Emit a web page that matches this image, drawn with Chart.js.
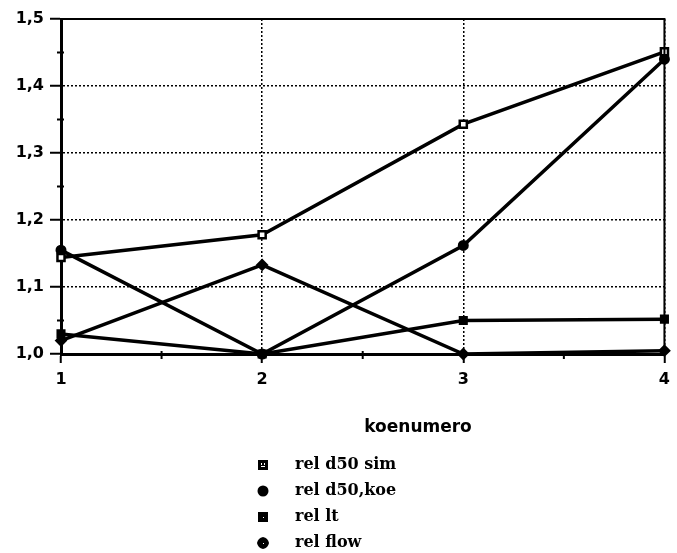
<!DOCTYPE html>
<html>
<head>
<meta charset="utf-8">
<script src="https://cdn.jsdelivr.net/npm/chart.js@4/dist/chart.umd.min.js"></script>
<style>
  html, body { margin: 0; padding: 0; background: #fff; }
  canvas { display: block; }
</style>
</head>
<body>
<canvas id="c" width="677" height="553"></canvas>
<script>
// koenumero (test number) on the x axis
const koenumero = [1, 2, 3, 4];
// relative values per test
const relD50Sim = [1.144, 1.178, 1.343, 1.451];
const relD50Koe = [1.155, 1.000, 1.162, 1.440];
const relLt     = [1.030, 1.000, 1.050, 1.052];
const relFlow   = [1.020, 1.133, 1.000, 1.005];
const seriesNames = ['rel d50 sim', 'rel d50,koe', 'rel lt', 'rel flow'];
const yTicks = [1.0, 1.1, 1.2, 1.3, 1.4, 1.5];
const xTitle = 'koenumero';

const pts = arr => arr.map((v, i) => ({ x: koenumero[i], y: v }));

const base = {
  borderColor: '#000',
  borderWidth: 3.5,
  tension: 0,
  clip: false,
  pointRadius: 5,
  pointBorderWidth: 2,
  pointBorderColor: '#000',
  pointBackgroundColor: '#000'
};

const datasets = [
  Object.assign({}, base, { label: seriesNames[0], data: pts(relD50Sim), pointStyle: 'rect', pointBackgroundColor: '#fff', pointBorderWidth: 2.5 }),
  Object.assign({}, base, { label: seriesNames[1], data: pts(relD50Koe), pointStyle: 'circle', pointRadius: 4.5 }),
  Object.assign({}, base, { label: seriesNames[2], data: pts(relLt), pointStyle: 'rect' }),
  Object.assign({}, base, { label: seriesNames[3], data: pts(relFlow), pointStyle: 'rectRot' })
];

// frame, minor ticks, axis title and legend
const decorations = {
  id: 'decorations',
  beforeDraw(chart) {
    const ctx = chart.ctx;
    ctx.save();
    ctx.fillStyle = '#fff';
    ctx.fillRect(0, 0, chart.width, chart.height);
    ctx.restore();
  },
  afterDatasetsDraw(chart) {
    const { ctx, chartArea: a, scales } = chart;
    ctx.save();
    ctx.strokeStyle = '#000';
    // top and right frame
    ctx.lineWidth = 2;
    ctx.beginPath();
    ctx.moveTo(a.left, a.top);
    ctx.lineTo(a.right, a.top);
    ctx.lineTo(a.right, a.bottom);
    ctx.stroke();
    // minor ticks
    ctx.lineWidth = 2;
    for (let k = 0; k < yTicks.length - 1; k++) {
      const y = scales.y.getPixelForValue((yTicks[k] + yTicks[k + 1]) / 2);
      ctx.beginPath();
      ctx.moveTo(a.left - 4, y);
      ctx.lineTo(a.left + 3, y);
      ctx.stroke();
    }
    for (let k = 0; k < koenumero.length - 1; k++) {
      const x = scales.x.getPixelForValue((koenumero[k] + koenumero[k + 1]) / 2);
      ctx.beginPath();
      ctx.moveTo(x, a.bottom - 3);
      ctx.lineTo(x, a.bottom + 5);
      ctx.stroke();
    }
    ctx.restore();
  },
  afterDraw(chart) {
    const ctx = chart.ctx;
    ctx.save();
    ctx.fillStyle = '#000';
    ctx.textBaseline = 'middle';
    ctx.textAlign = 'center';
    ctx.font = 'bold 17px "DejaVu Sans"';
    ctx.fillText(xTitle, 418, 428);

    // legend
    const mx = 263, tx = 295, y0 = 465, dy = 26;
    ctx.textAlign = 'left';
    ctx.font = 'bold 16px "DejaVu Serif"';
    seriesNames.forEach((name, i) => {
      const y = y0 + i * dy;
      ctx.fillStyle = '#000';
      if (i === 0) {
        ctx.fillRect(mx - 5, y - 5, 10, 10);
        ctx.fillStyle = '#fff';
        ctx.fillRect(mx - 2, y - 2, 1, 2);
        ctx.fillRect(mx + 1, y - 2, 1, 2);
        ctx.fillRect(mx - 2, y + 1, 4, 1);
      } else if (i === 1) {
        ctx.beginPath();
        ctx.arc(mx, y, 5.5, 0, Math.PI * 2);
        ctx.fill();
      } else if (i === 2) {
        ctx.fillRect(mx - 5, y - 5, 10, 10);
        ctx.fillStyle = '#fff';
        ctx.fillRect(mx, y, 1, 1);
      } else {
        ctx.beginPath();
        ctx.moveTo(mx, y - 6);
        ctx.quadraticCurveTo(mx + 5, y - 5, mx + 6, y);
        ctx.quadraticCurveTo(mx + 5, y + 5, mx, y + 6);
        ctx.quadraticCurveTo(mx - 5, y + 5, mx - 6, y);
        ctx.quadraticCurveTo(mx - 5, y - 5, mx, y - 6);
        ctx.fill();
        ctx.fillStyle = '#fff';
        ctx.fillRect(mx, y, 1, 1);
      }
      ctx.fillStyle = '#000';
      ctx.fillText(name, tx, y);
    });
    ctx.restore();
  }
};

new Chart(document.getElementById('c'), {
  type: 'line',
  data: { datasets },
  options: {
    responsive: false,
    animation: false,
    devicePixelRatio: 1,
    events: [],
    layout: { padding: { left: 0, right: 11, top: 19, bottom: 0 } },
    plugins: { legend: { display: false }, tooltip: { enabled: false } },
    scales: {
      x: {
        type: 'linear',
        min: koenumero[0],
        max: koenumero[koenumero.length - 1],
        afterFit(s) { s.height = 199; },
        afterBuildTicks(s) { s.ticks = koenumero.map(v => ({ value: v })); },
        ticks: {
          color: '#000',
          padding: 7,
          font: { family: 'DejaVu Sans', size: 16, weight: 'bold' },
          callback: v => String(v)
        },
        grid: {
          color: '#000',
          lineWidth: 1.5,
          tickColor: '#000',
          tickLength: 9,
          tickWidth: 2
        },
        border: { display: true, color: '#000', width: 3, dash: [2, 2] }
      },
      y: {
        type: 'linear',
        min: yTicks[0],
        max: yTicks[yTicks.length - 1],
        afterFit(s) { s.width = 61; },
        afterBuildTicks(s) { s.ticks = yTicks.map(v => ({ value: v })); },
        ticks: {
          color: '#000',
          padding: 6,
          font: { family: 'DejaVu Sans', size: 16, weight: 'bold' },
          callback: v => Number(v).toFixed(1).replace('.', ',')
        },
        grid: {
          color: '#000',
          lineWidth: 1.5,
          tickColor: '#000',
          tickLength: 11,
          tickWidth: 2
        },
        border: { display: true, color: '#000', width: 3, dash: [2, 2] }
      }
    }
  },
  plugins: [decorations]
});
</script>
</body>
</html>
